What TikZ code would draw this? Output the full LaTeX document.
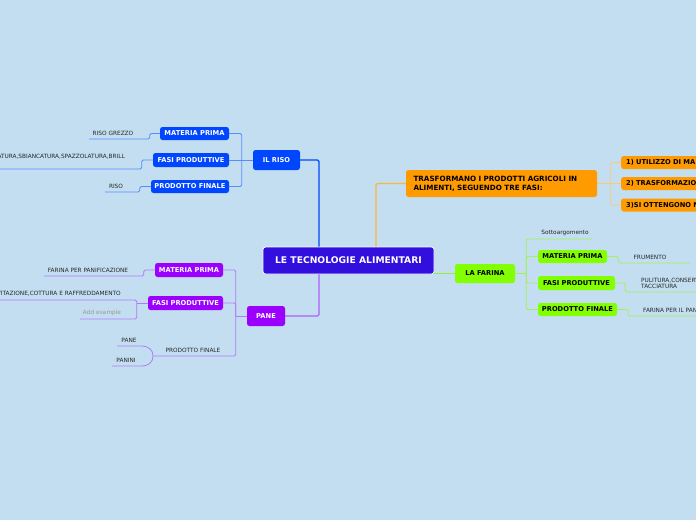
\documentclass[tikz,border=0pt]{standalone}
\usepackage{fontspec}
\setmainfont{DejaVu Sans}
\usetikzlibrary{calc, positioning}
\definecolor{bgblue}{RGB}{194,222,240}
\definecolor{mainvio}{RGB}{50,15,220}
\definecolor{risoblue}{RGB}{0,70,255}
\definecolor{risoline}{RGB}{90,140,255}
\definecolor{trasfor}{RGB}{255,155,0}
\definecolor{trasline}{RGB}{255,200,120}
\definecolor{farinagreen}{RGB}{130,255,0}
\definecolor{farline}{RGB}{165,240,90}
\definecolor{fartrunk}{RGB}{150,235,60}
\definecolor{panevio}{RGB}{155,0,255}
\definecolor{paneline}{RGB}{180,120,255}

\begin{document}
\begin{tikzpicture}[x=1pt, y=-1pt,
  box/.style={rounded corners=2.5pt, inner sep=0pt, align=center,
    font=\fontsize{6.7}{8}\selectfont\bfseries},
  leaf/.style={inner sep=0pt, font=\fontsize{5.8}{6.6}\selectfont, text=black!85},
  link/.style={line width=0.8pt, rounded corners=1.5pt},
  trunk/.style={line width=1.3pt, rounded corners=1.5pt}]
  % Sfondo
  \fill[bgblue] (0,0) rectangle (696,520);
  \useasboundingbox (0,0) rectangle (696,520);
  \clip (0,0) rectangle (696,520);

  % Centro
  \node[box, fill=mainvio, draw=white, line width=0.8pt, text=white,
    minimum width=171, minimum height=27, font=\fontsize{9.2}{11}\selectfont\bfseries]
    (main) at (348.5,260.5) {LE TECNOLOGIE ALIMENTARI};

  % Il riso
  \node[box, fill=risoblue, text=white, minimum width=47, minimum height=20]
    (riso) at (276.5,160) {IL RISO};
  \node[box, fill=risoblue, text=white, minimum width=69, minimum height=13]
    (rmat) at (194.5,133.5) {MATERIA PRIMA};
  \node[box, fill=risoblue, text=white, minimum width=76, minimum height=14]
    (rfas) at (191,160) {FASI PRODUTTIVE};
  \node[box, fill=risoblue, text=white, minimum width=78, minimum height=13]
    (rpro) at (190,186.5) {PRODOTTO FINALE};
  \node[leaf] (rgrezzo) at (113,133) {RISO GREZZO};
  \node[leaf, anchor=east] (rfasi) at (125,157) {ATURA,SBIANCATURA,SPAZZOLATURA,BRILL};
  \node[leaf] (rriso) at (116,186) {RISO};
  \coordinate (rgrezzoL) at (89,139);
  \coordinate (rfasiL) at (-2,169);
  \coordinate (rrisoL) at (105,192);
  \draw[trunk, risoblue] ([xshift=-29.5]main.north) |- (riso.east);
  \draw[link, risoline] (riso.west) -- ++(-11,0) coordinate (rj);
  \draw[link, risoline] (rmat.east) -| (rj) |- (rpro.east);
  \draw[link, risoline] (rfas.east) -- (rj);
  \draw[link, risoline] (rmat.west) -- ++(-10,0) |- (rgrezzoL);
  \draw[link, risoline] (rfas.west) -- ++(-11,0) |- (rfasiL);
  \draw[link, risoline] (rpro.west) -- ++(-11,0) |- (rrisoL);

  % Trasformano
  \node[box, fill=trasfor, text=black, minimum width=191, minimum height=27,
    align=left, text width=176, font=\fontsize{7.2}{9}\selectfont\bfseries]
    (trasf) at (501.5,183.5)
    {TRASFORMANO I PRODOTTI AGRICOLI IN\\ALIMENTI, SEGUENDO TRE FASI:};
  \node[box, fill=trasfor, text=black, anchor=west, minimum width=100,
    minimum height=13, align=left, text width=90] (tuno) at (621,162.5)
    {1) UTILIZZO DI MA};
  \node[box, fill=trasfor, text=black, anchor=west, minimum width=100,
    minimum height=13, align=left, text width=90] (tdue) at (621,183.5)
    {2) TRASFORMAZIO};
  \node[box, fill=trasfor, text=black, anchor=west, minimum width=100,
    minimum height=13, align=left, text width=90] (ttre) at (621,205)
    {3)SI OTTENGONO M};
  \draw[trunk, trasfor!75!white] ([xshift=27.5]main.north) |- (trasf.west);
  \draw[link, trasline] (trasf.east) -- ++(13,0) coordinate (tj);
  \draw[link, trasline] (tuno.west) -| (tj) |- (ttre.west);
  \draw[link, trasline] (tdue.west) -- (tj);

  % La farina
  \node[box, fill=farinagreen, text=black, minimum width=60, minimum height=19]
    (farina) at (485,273.5) {LA FARINA};
  \node[box, fill=farinagreen, text=black, minimum width=69, minimum height=13]
    (fmat) at (572.5,256.5) {MATERIA PRIMA};
  \node[box, fill=farinagreen, text=black, minimum width=77, minimum height=14]
    (ffas) at (576.5,283) {FASI PRODUTTIVE};
  \node[box, fill=farinagreen, text=black, minimum width=79, minimum height=13]
    (fpro) at (577.5,309.5) {PRODOTTO FINALE};
  \node[leaf] (fsotto) at (565,233) {Sottoargomento};
  \node[leaf] (ffrum) at (650,257) {FRUMENTO};
  \node[leaf, anchor=west, align=left] (fpul) at (641,283.5) {PULITURA,CONSERV\\TACCIATURA};
  \node[leaf, anchor=west] (fpan) at (643,310) {FARINA PER IL PAN};
  \coordinate (fsottoR) at (592,239);
  \coordinate (ffrumR) at (690,263);
  \coordinate (fpulR) at (700,292);
  \coordinate (fpanR) at (700,316);
  \draw[trunk, fartrunk] ([xshift=-1]main.east |- farina.west) -- (farina.west);
  \draw[link, farline] (farina.east) -- ++(11,0) coordinate (fj);
  \draw[link, farline] (fsottoR) -| (fj) |- (fpro.west);
  \draw[link, farline] (fmat.west) -| (fj);
  \draw[link, farline] (ffas.west) -| (fj);
  \draw[link, farline] (fmat.east) -- ++(11,0) |- (ffrumR);
  \draw[link, farline] (ffas.east) -- ++(10,0) |- (fpulR);
  \draw[link, farline] (fpro.east) -- ++(11,0) |- (fpanR);

  % Pane
  \node[box, fill=panevio, text=white, minimum width=38, minimum height=20]
    (pane) at (266,316) {PANE};
  \node[box, fill=panevio, text=white, minimum width=68, minimum height=14]
    (pmat) at (189,270) {MATERIA PRIMA};
  \node[box, fill=panevio, text=white, minimum width=75, minimum height=14]
    (pfas) at (185.5,303) {FASI PRODUTTIVE};
  \node[leaf] (ppro) at (193,350) {PRODOTTO FINALE};
  \node[leaf] (pfarina) at (88,270) {FARINA PER PANIFICAZIONE};
  \node[leaf, anchor=east] (plievi) at (121,294) {EVITAZIONE,COTTURA E RAFFREDDAMENTO};
  \node[leaf, text=black!40] (padd) at (102,313) {Add example};
  \node[leaf] (ppane) at (129,340) {PANE};
  \node[leaf] (ppanini) at (126,360) {PANINI};
  \coordinate (pfarinaL) at (44,276);
  \coordinate (plieviL) at (-2,300);
  \coordinate (paddL) at (80,319);
  \coordinate (pproL) at (153,356);
  \coordinate (ppaneL) at (117,346);
  \coordinate (ppaniniL) at (112,366);
  \draw[trunk, paneline!80!panevio] ([xshift=-29.5]main.south) |- (pane.east);
  \draw[link, paneline] (pane.west) -- ++(-11,0) coordinate (pj);
  \draw[link, paneline] (pmat.east) -| (pj) |- (pproL);
  \draw[link, paneline] (pfas.east) -| (pj);
  \draw[link, paneline] (pmat.west) -- ++(-11,0) |- (pfarinaL);
  \draw[link, paneline] (pfas.west) -- ++(-11,0) coordinate (pk);
  \draw[link, paneline] (plieviL) -| (pk) |- (paddL);
  \draw[line width=0.8pt, paneline] (ppaneL) -- (141,346)
    .. controls (149,346) and (153,350) .. (pproL)
    .. controls (153,362) and (149,366) .. (141,366) -- (ppaniniL);
\end{tikzpicture}
\end{document}
